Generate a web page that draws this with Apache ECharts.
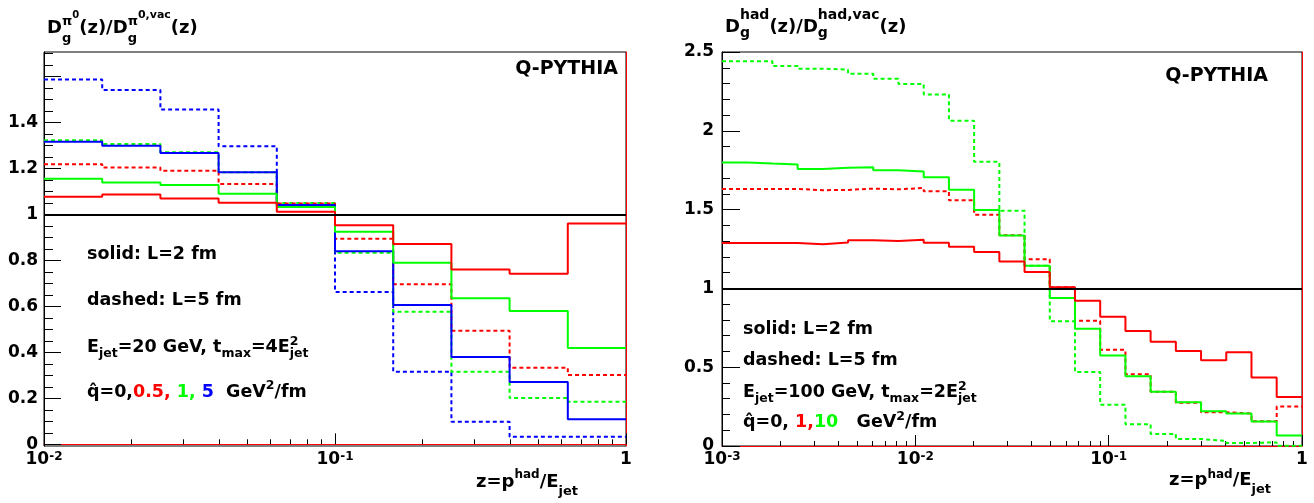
<!DOCTYPE html>
<html><head><meta charset="utf-8">
<script src="https://cdn.jsdelivr.net/npm/echarts@6/dist/echarts.min.js"></script>
<style>html,body{margin:0;padding:0;background:#fff}#c{width:1314px;height:503px}</style>
</head><body><div id="c"></div>
<script>
// ---------- DATA: left panel (pi0, E_jet = 20 GeV) ----------
const edgesL = [0.01, 0.01585, 0.02512, 0.03981, 0.0631, 0.1, 0.1585, 0.2512, 0.3981, 0.631, 1];
const redSolidL   = [1.077, 1.087, 1.070, 1.051, 1.012, 0.953, 0.872, 0.761, 0.742, 0.961];
const greenSolidL = [1.155, 1.139, 1.128, 1.090, 1.033, 0.925, 0.790, 0.636, 0.580, 0.419];
const blueSolidL  = [1.316, 1.299, 1.268, 1.184, 1.041, 0.840, 0.606, 0.380, 0.271, 0.109];
const redDashL    = [1.219, 1.204, 1.190, 1.133, 1.048, 0.894, 0.696, 0.494, 0.333, 0.301];
const greenDashL  = [1.323, 1.307, 1.271, 1.184, 1.050, 0.834, 0.577, 0.316, 0.201, 0.185];
const blueDashL   = [1.587, 1.542, 1.457, 1.297, 1.044, 0.663, 0.316, 0.098, 0.033, 0.033];

// ---------- DATA: right panel (hadrons, E_jet = 100 GeV) ----------
const edgesR = [0.001, 0.00135, 0.001823, 0.002462, 0.003324, 0.004488, 0.00606, 0.008182,
  0.01105, 0.01492, 0.02014, 0.0272, 0.03672, 0.04959, 0.06695, 0.0904, 0.1221, 0.1648,
  0.2226, 0.3005, 0.4058, 0.5479, 0.7397, 1];
const greenDashR  = [2.441, 2.441, 2.411, 2.394, 2.388, 2.362, 2.331, 2.297, 2.231, 2.064, 1.803, 1.493,
  1.144, 0.792, 0.470, 0.261, 0.138, 0.076, 0.044, 0.032, 0.019, 0.023, 0.002];
const greenSolidR = [1.799, 1.792, 1.786, 1.758, 1.765, 1.769, 1.750, 1.742, 1.706, 1.626, 1.498, 1.336,
  1.143, 0.939, 0.744, 0.574, 0.443, 0.345, 0.278, 0.220, 0.206, 0.155, 0.066];
const redDashR    = [1.631, 1.631, 1.631, 1.623, 1.625, 1.633, 1.629, 1.637, 1.616, 1.559, 1.468, 1.337,
  1.185, 1.008, 0.794, 0.610, 0.456, 0.345, 0.275, 0.214, 0.206, 0.157, 0.250];
const redSolidR   = [1.288, 1.288, 1.288, 1.280, 1.292, 1.305, 1.301, 1.309, 1.290, 1.264, 1.231, 1.170,
  1.104, 1.008, 0.922, 0.820, 0.729, 0.661, 0.602, 0.544, 0.595, 0.434, 0.311];

// ---------- tick values ----------
const ticksXL = [0.01, 0.1, 1];
const ticksXR = [0.001, 0.01, 0.1, 1];
const ticksYL = [0, 0.2, 0.4, 0.6, 0.8, 1, 1.2, 1.4, 1.6];
const labelsYL = [0, 0.2, 0.4, 0.6, 0.8, 1, 1.2, 1.4];
const ticksYR = [0, 0.5, 1, 1.5, 2, 2.5];
const rangeYL = [-0.0074, 1.707];
const rangeYR = [0, 2.5];

const RED = '#ff0000', GREEN = '#00ff00', BLUE = '#0000ff';
const FF = 'DejaVu Sans';

function logMinors(d0, d1) {
  const r = [];
  for (let d = d0; d < d1; d++) for (let k = 2; k <= 9; k++) r.push(+(k * Math.pow(10, d)).toPrecision(3));
  return r;
}
function linMinors(lo, hi, step, major) {
  const r = [];
  for (let i = Math.ceil(lo / step - 1e-9); i * step <= hi + 1e-9; i++) {
    const v = +(i * step).toFixed(4);
    if (Math.abs(v / major - Math.round(v / major)) > 1e-6) r.push(v);
  }
  return r;
}
function steps(edges, vals) {
  return edges.map((e, i) => [e, vals[Math.min(i, vals.length - 1)]]);
}
function hist(edges, vals, color, dashed, xi, yi, withOne) {
  const s = {
    type: 'line', xAxisIndex: xi, yAxisIndex: yi, data: steps(edges, vals), step: 'end',
    showSymbol: false, symbol: 'none', silent: true, animation: false,
    lineStyle: { color: color, width: 2, type: dashed ? [4, 3] : 'solid' }
  };
  if (withOne) {
    s.markLine = { silent: true, symbol: 'none', animation: false, label: { show: false },
      lineStyle: { color: '#000', width: 2, type: 'solid' }, data: [{ yAxis: 1 }] };
  }
  return s;
}

const labelRich = {
  m: { fontFamily: FF, fontWeight: 'bold', fontSize: 17, lineHeight: 20, verticalAlign: 'top', color: '#000' },
  s: { fontFamily: FF, fontWeight: 'bold', fontSize: 12, lineHeight: 12, verticalAlign: 'top', color: '#000' }
};
function logFmt(v) {
  const e = Math.round(Math.log10(v));
  return e === 0 ? '{m|1}' : '{m|10}{s|' + e + '}';
}
function xAxes(gi, min, max, majors, minors) {
  return [{
    type: 'log', gridIndex: gi, min: min, max: max, position: 'bottom',
    axisLine: { show: true, lineStyle: { color: RED, width: 1 } },
    axisTick: { show: true, inside: true, length: 11, customValues: majors, lineStyle: { color: '#000', width: 1 } },
    axisLabel: { show: true, customValues: majors, formatter: logFmt, rich: labelRich, margin: 5,
      showMinLabel: true, showMaxLabel: true },
    splitLine: { show: false }, minorTick: { show: false }
  }, {
    type: 'log', gridIndex: gi, min: min, max: max, position: 'bottom',
    axisLine: { show: false },
    axisTick: { show: true, inside: true, length: 5, customValues: minors, lineStyle: { color: '#000', width: 1 } },
    axisLabel: { show: false }, splitLine: { show: false }
  }];
}
function yAxes(gi, range, majors, labels, minors, majLen, minLen, margin) {
  return [{
    type: 'value', gridIndex: gi, min: range[0], max: range[1], position: 'left',
    axisLine: { show: true, lineStyle: { color: '#000', width: 1 } },
    axisTick: { show: true, inside: true, length: majLen, customValues: majors, lineStyle: { color: '#000', width: 1 } },
    axisLabel: { show: true, customValues: labels, margin: margin, formatter: v => String(+(+v).toFixed(2)),
      fontFamily: FF, fontWeight: 'bold', fontSize: 17, color: '#000', showMinLabel: true, showMaxLabel: true },
    splitLine: { show: false }
  }, {
    type: 'value', gridIndex: gi, min: range[0], max: range[1], position: 'left',
    axisLine: { show: false },
    axisTick: { show: true, inside: true, length: minLen, customValues: minors, lineStyle: { color: '#000', width: 1 } },
    axisLabel: { show: false }, splitLine: { show: false }
  }, {
    type: 'value', gridIndex: gi, min: range[0], max: range[1], position: 'right',
    axisLine: { show: true, lineStyle: { color: RED, width: 1 } },
    axisTick: { show: false }, axisLabel: { show: false }, splitLine: { show: false }
  }];
}

// ---------- TeX-like text layout with graphic texts ----------
const cv = document.createElement('canvas').getContext('2d');
function tw(t, s) { cv.font = 'bold ' + s + 'px "' + FF + '"'; return cv.measureText(t).width; }
function tex(x0, base, parts, S) {
  const out = [];
  let maxEnd = x0, markStart = x0;
  parts.forEach(p => {
    const s = p.s || S, dy = p.dy || 0;
    const start = p.under ? markStart : maxEnd;
    if (p.mark) markStart = start;
    out.push({
      type: 'text', silent: true, z: 100, x: start, y: base + dy - 0.346 * s,
      style: { text: p.t, font: 'bold ' + s + 'px "' + FF + '"', fill: p.c || '#000', align: 'left', verticalAlign: 'middle' }
    });
    maxEnd = Math.max(maxEnd, start + tw(p.t, s));
  });
  return out;
}
function plain(x, base, t, s, align) {
  return { type: 'text', silent: true, z: 100, x: x, y: base - 0.346 * s,
    style: { text: t, font: 'bold ' + s + 'px "' + FF + '"', fill: '#000', align: align, verticalAlign: 'middle' } };
}

const S = 17.5, SS = 12.5;
let G = [];
// titles
G = G.concat(tex(47, 35, [
  { t: 'D', s: 18 }, { t: 'π', s: 13, dy: -9, mark: true }, { t: '0', s: 10, dy: -16 },
  { t: 'g', s: 13, dy: 8.5, under: true }, { t: '(z)/D', s: 18 },
  { t: 'π', s: 13, dy: -9, mark: true }, { t: '0,vac', s: 11, dy: -16 },
  { t: 'g', s: 13, dy: 8.5, under: true }, { t: '(z)', s: 18 }], 18));
G = G.concat(tex(725, 34, [
  { t: 'D', s: 18 }, { t: 'had', s: 14, dy: -13.5, mark: true }, { t: 'g', s: 14, dy: 4, under: true },
  { t: '(z)/D', s: 18 }, { t: 'had,vac', s: 14, dy: -13.5, mark: true }, { t: 'g', s: 14, dy: 4, under: true },
  { t: '(z)', s: 18 }], 18));
// Q-PYTHIA
G.push(plain(618, 76, 'Q-PYTHIA', 19, 'right'));
G.push(plain(1268, 83, 'Q-PYTHIA', 19, 'right'));
// left annotations
G = G.concat(tex(87, 260.7, [{ t: 'solid: L=2 fm' }], S));
G = G.concat(tex(87, 306.7, [{ t: 'dashed: L=5 fm' }], S));
G = G.concat(tex(87, 353.3, [{ t: 'E' }, { t: 'jet', s: SS, dy: 5 }, { t: '=20 GeV, t' }, { t: 'max', s: SS, dy: 5 },
  { t: '=4E' }, { t: '2', s: SS, dy: -7.5, mark: true }, { t: 'jet', s: SS, dy: 5, under: true }], S));
G = G.concat(tex(87, 398.3, [{ t: 'q̂=0,' }, { t: '0.5, ', c: RED }, { t: '1, ', c: GREEN }, { t: '5', c: BLUE },
  { t: '  GeV' }, { t: '2', s: SS, dy: -8 }, { t: '/fm' }], S));
// right annotations
G = G.concat(tex(743, 336, [{ t: 'solid: L=2 fm' }], S));
G = G.concat(tex(743, 366.7, [{ t: 'dashed: L=5 fm' }], S));
G = G.concat(tex(743, 398.3, [{ t: 'E' }, { t: 'jet', s: SS, dy: 5 }, { t: '=100 GeV, t' }, { t: 'max', s: SS, dy: 5 },
  { t: '=2E' }, { t: '2', s: SS, dy: -7.5, mark: true }, { t: 'jet', s: SS, dy: 5, under: true }], S));
G = G.concat(tex(743, 429, [{ t: 'q̂=0, ' }, { t: '1,', c: RED }, { t: '10', c: GREEN },
  { t: '   GeV' }, { t: '2', s: SS, dy: -8 }, { t: '/fm' }], S));
// x axis titles
G = G.concat(tex(476, 489, [{ t: 'z=p', s: 18 }, { t: 'had', s: 12, dy: -10 }, { t: '/E', s: 18 }, { t: 'jet', s: 13, dy: 7 }], 18));
G = G.concat(tex(1169, 487, [{ t: 'z=p', s: 18 }, { t: 'had', s: 12, dy: -8 }, { t: '/E', s: 18 }, { t: 'jet', s: 13, dy: 7 }], 18));

const chart = echarts.init(document.getElementById('c'), null, { renderer: 'canvas' });
chart.setOption({
  animation: false,
  backgroundColor: '#fff',
  grid: [
    { left: 44, top: 52, width: 582, height: 394, show: true, borderColor: '#000', borderWidth: 1, backgroundColor: 'transparent' },
    { left: 722, top: 52, width: 580, height: 394, show: true, borderColor: '#000', borderWidth: 1, backgroundColor: 'transparent' }
  ],
  xAxis: [].concat(
    xAxes(0, 0.01, 1, ticksXL, logMinors(-2, 0)),
    xAxes(1, 0.001, 1, ticksXR, logMinors(-3, 0))
  ),
  yAxis: [].concat(
    yAxes(0, rangeYL, ticksYL, labelsYL, linMinors(0, 1.7, 0.05, 0.2), 17, 9, 6),
    yAxes(1, rangeYR, ticksYR, ticksYR, linMinors(0, 2.5, 0.1, 0.5), 18, 8, 8)
  ),
  series: [
    hist(edgesL, blueDashL, BLUE, true, 0, 0, true),
    hist(edgesL, greenDashL, GREEN, true, 0, 0),
    hist(edgesL, redDashL, RED, true, 0, 0),
    hist(edgesL, blueSolidL, BLUE, false, 0, 0),
    hist(edgesL, greenSolidL, GREEN, false, 0, 0),
    hist(edgesL, redSolidL, RED, false, 0, 0),
    hist(edgesR, greenDashR, GREEN, true, 2, 3, true),
    hist(edgesR, redDashR, RED, true, 2, 3),
    hist(edgesR, greenSolidR, GREEN, false, 2, 3),
    hist(edgesR, redSolidR, RED, false, 2, 3)
  ],
  graphic: G
});
</script></body></html>
